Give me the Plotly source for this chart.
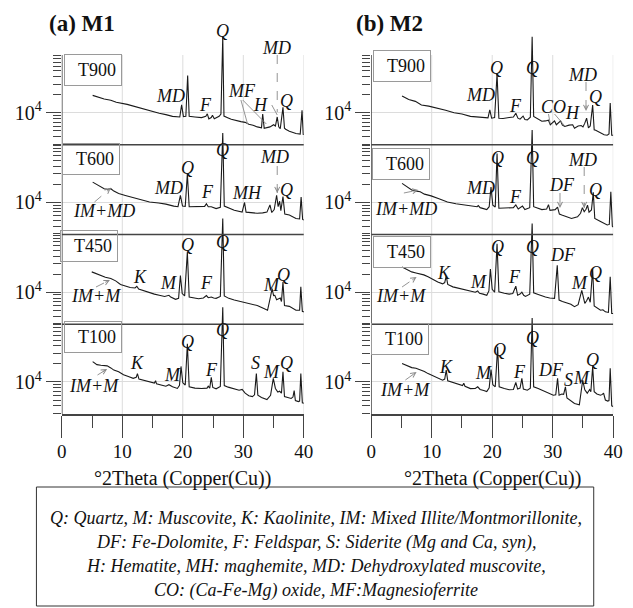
import plotly.graph_objects as go

# ---------------- data (2theta in degrees, intensity in counts) ----------------
panel_names = ["T900", "T600", "T450", "T100"]

m1_t900_tt = [5.1, 6.0, 7.0, 8.1, 9.0, 10.8, 12.0, 13.4, 14.8, 16.1, 17.2, 18.3, 19.5, 19.8, 20.1, 20.5, 20.8, 21.05, 22.0, 23.1, 23.8, 24.05, 24.3, 24.7, 24.9, 25.2, 26.0, 26.3, 26.6, 26.8, 27.5, 28.0, 29.6, 30.3, 30.9, 31.6, 32.3, 33.0, 33.2, 33.45, 34.4, 35.0, 35.3, 35.6, 35.85, 36.1, 36.55, 36.8, 37.0, 37.6, 38.7, 39.4, 39.7, 39.9, 40.0]
m1_t900_I = [19500, 18200, 17000, 16200, 15000, 13800, 12700, 11700, 10700, 9800, 9300, 8700, 8500, 13500, 8600, 8700, 41700, 8700, 8500, 8300, 8700, 9600, 7900, 8300, 9100, 7900, 8700, 9500, 186000, 8800, 8200, 7800, 7100, 6900, 6400, 6200, 5800, 5600, 9500, 5500, 5800, 6300, 6000, 8500, 5800, 5400, 12300, 5500, 5300, 4900, 4500, 4400, 11000, 4300, 4400]

m1_t600_tt = [5.1, 6.0, 7.0, 7.6, 8.1, 8.6, 9.4, 10.5, 11.8, 13.0, 14.5, 16.0, 17.2, 18.5, 19.2, 19.6, 19.95, 20.4, 20.75, 21.05, 22.0, 23.1, 23.6, 23.9, 24.2, 24.7, 25.5, 26.2, 26.6, 26.85, 27.5, 28.5, 29.8, 30.2, 30.45, 31.2, 32.3, 33.2, 33.9, 34.4, 34.7, 35.1, 35.5, 35.75, 36.0, 36.2, 36.55, 36.85, 37.6, 38.7, 39.3, 39.55, 39.8, 40.0]
m1_t600_I = [21900, 19500, 17000, 16600, 17000, 15500, 14100, 13100, 12100, 11000, 10200, 9800, 9400, 8700, 8500, 13200, 8700, 8600, 30200, 8500, 8500, 8400, 8600, 9500, 8500, 8500, 7900, 8300, 144500, 8700, 8100, 7400, 6900, 10000, 6900, 6800, 6600, 6700, 6900, 9100, 6800, 7600, 13200, 8500, 10500, 7300, 12600, 6400, 6200, 5400, 5300, 12300, 5200, 5100]

m1_t450_tt = [4.95, 5.7, 6.45, 7.2, 8.1, 8.9, 9.7, 10.5, 11.3, 12.1, 12.4, 12.7, 13.6, 14.5, 15.3, 16.1, 17.0, 17.7, 18.0, 18.8, 19.3, 19.6, 19.9, 20.3, 20.75, 21.05, 21.8, 22.6, 23.4, 23.9, 24.2, 24.7, 25.1, 25.5, 26.2, 26.6, 26.85, 27.6, 28.5, 29.3, 30.1, 31.2, 32.3, 33.3, 34.0, 34.5, 34.75, 35.0, 35.2, 35.5, 35.75, 36.1, 36.3, 36.55, 36.8, 37.6, 38.7, 39.3, 39.5, 39.75, 40.0]
m1_t450_I = [21900, 20400, 18600, 17800, 17000, 15500, 13500, 12600, 12000, 11800, 12600, 11300, 10500, 9800, 9300, 8900, 8500, 8900, 8300, 7600, 7900, 19000, 9500, 8700, 46800, 8300, 8000, 7800, 8000, 8800, 8100, 8300, 8000, 7900, 8500, 170000, 8700, 7900, 7400, 7100, 6900, 6400, 6000, 5400, 5000, 8500, 11500, 8800, 8900, 7500, 7800, 8000, 7000, 14800, 6000, 5800, 5000, 5000, 12300, 4800, 4700]

m1_t100_tt = [5.1, 5.8, 6.45, 7.0, 7.5, 8.1, 8.6, 9.4, 10.2, 11.0, 11.8, 12.3, 12.5, 12.75, 13.6, 14.5, 15.3, 15.5, 15.65, 16.4, 17.2, 17.7, 18.3, 19.1, 19.45, 19.7, 20.0, 20.4, 20.75, 21.05, 22.0, 23.1, 24.0, 24.2, 24.45, 24.7, 24.95, 25.5, 26.2, 26.6, 26.85, 27.5, 28.5, 29.3, 29.8, 30.3, 30.9, 31.5, 31.85, 32.15, 32.4, 33.0, 33.9, 34.5, 34.95, 35.3, 35.7, 36.0, 36.3, 36.55, 36.8, 37.3, 37.9, 38.2, 38.4, 38.6, 39.1, 39.3, 39.5, 39.75, 40.0]
m1_t100_I = [21900, 19500, 19000, 18800, 18600, 17200, 15800, 14800, 13200, 12300, 11500, 12000, 13800, 11200, 10600, 10000, 9600, 10500, 9300, 8900, 8500, 9000, 8300, 7800, 8800, 18200, 9700, 8900, 43600, 8300, 7900, 7800, 7900, 8500, 7900, 12000, 8100, 7700, 8400, 177800, 8700, 8200, 7600, 7300, 7500, 6500, 5900, 5700, 6100, 13800, 6000, 5500, 5100, 6000, 11500, 7800, 6800, 7000, 6500, 14800, 5700, 5500, 5300, 5600, 7200, 4900, 4700, 4800, 13800, 4500, 4400]

m2_t900_tt = [5.1, 6.2, 7.3, 8.3, 9.5, 11.0, 12.3, 13.7, 15.0, 16.4, 17.5, 18.5, 19.3, 19.6, 19.9, 20.4, 20.8, 21.1, 21.8, 22.8, 23.5, 23.9, 24.25, 24.6, 25.1, 25.4, 25.8, 26.3, 26.6, 26.85, 27.5, 28.2, 28.8, 29.3, 29.6, 30.3, 30.6, 31.3, 31.6, 32.0, 32.7, 33.3, 33.6, 34.2, 34.7, 35.0, 35.3, 35.6, 35.9, 36.2, 36.6, 36.85, 37.1, 37.9, 38.5, 39.0, 39.3, 39.5, 39.75, 40.0]
m2_t900_I = [19100, 16600, 15500, 13500, 12900, 12000, 11000, 10000, 9500, 8700, 8500, 8100, 8200, 11200, 8100, 8300, 44700, 8100, 8000, 8300, 8500, 9800, 8100, 7800, 8800, 7700, 7600, 8400, 186000, 8700, 7900, 7200, 7300, 7500, 6300, 7300, 6300, 7300, 6200, 5900, 6200, 6300, 5500, 6000, 6100, 5800, 6700, 8100, 5600, 6000, 13500, 5200, 5100, 4600, 4300, 4200, 4400, 14500, 4200, 4200]

m2_t600_tt = [5.1, 6.0, 6.7, 7.5, 8.1, 8.8, 9.9, 11.2, 12.6, 14.0, 15.3, 16.5, 17.5, 17.7, 18.0, 19.1, 19.5, 19.8, 20.1, 20.5, 20.8, 21.1, 22.0, 22.8, 23.5, 23.9, 24.3, 25.0, 25.4, 26.2, 26.6, 26.85, 27.6, 28.2, 29.0, 29.3, 29.55, 30.4, 30.8, 31.1, 31.5, 32.3, 33.1, 34.1, 34.6, 34.9, 35.2, 35.5, 35.75, 36.0, 36.4, 36.7, 36.95, 37.9, 39.0, 39.35, 39.6, 39.85, 40.0]
m2_t600_I = [20900, 18200, 16200, 15500, 15100, 13800, 12900, 11500, 10200, 9500, 9100, 8700, 8500, 8900, 8200, 7600, 8500, 18200, 9000, 8400, 66000, 8000, 8000, 8000, 8200, 9100, 7800, 8700, 7600, 8200, 162000, 8500, 8000, 7600, 7800, 9200, 7400, 7600, 8400, 6400, 6170, 5800, 5400, 5750, 6600, 8200, 7000, 7700, 9000, 6900, 7500, 14800, 5400, 4800, 4200, 4300, 15100, 4000, 3900]

m2_t450_tt = [5.1, 5.9, 6.7, 7.4, 8.1, 8.7, 9.4, 10.2, 11.0, 11.8, 12.15, 12.4, 12.65, 13.5, 14.8, 15.6, 16.4, 17.2, 17.6, 17.9, 18.5, 19.1, 19.45, 19.7, 20.0, 20.4, 20.8, 21.1, 22.0, 22.8, 23.4, 23.9, 24.2, 24.6, 24.9, 25.2, 25.5, 26.2, 26.6, 26.85, 27.6, 28.2, 28.8, 29.5, 30.3, 30.75, 31.05, 31.6, 32.5, 33.0, 33.6, 34.2, 34.8, 35.3, 35.6, 35.9, 36.2, 36.6, 36.85, 37.1, 37.9, 38.3, 38.7, 39.2, 39.5, 39.75, 40.0]
m2_t450_I = [26300, 24000, 21900, 21000, 20400, 19500, 18200, 16200, 14800, 13800, 14500, 18600, 13500, 12300, 11500, 10800, 10500, 10000, 10500, 9600, 9300, 8900, 10500, 24500, 11200, 10000, 64600, 10200, 9600, 9300, 9500, 12600, 8900, 9300, 10000, 8900, 8500, 9300, 141000, 9800, 9200, 8700, 8300, 8000, 7900, 28200, 7400, 7000, 6500, 6300, 5750, 6200, 10700, 6500, 7200, 8300, 6800, 24500, 5900, 5700, 5000, 5100, 4700, 4600, 18200, 4400, 4400]

m2_t100_tt = [5.1, 5.9, 6.7, 7.4, 8.1, 8.8, 9.4, 10.2, 11.0, 11.8, 12.15, 12.4, 12.65, 13.6, 14.8, 15.1, 15.3, 15.5, 16.4, 17.2, 17.6, 18.0, 18.6, 19.1, 19.5, 19.8, 20.1, 20.5, 20.9, 21.15, 22.0, 22.8, 23.5, 23.9, 24.2, 24.6, 24.9, 25.15, 25.8, 26.3, 26.6, 26.85, 27.6, 28.2, 28.8, 29.5, 30.1, 30.5, 30.8, 31.05, 31.5, 31.8, 32.1, 32.35, 32.8, 33.6, 34.4, 34.7, 34.95, 35.3, 35.7, 36.1, 36.3, 36.6, 36.85, 37.3, 37.9, 38.2, 38.4, 38.7, 39.1, 39.3, 39.5, 39.75, 40.0]
m2_t100_I = [20400, 18600, 17400, 17000, 16200, 15000, 13800, 12600, 11500, 10700, 11200, 15800, 10500, 9800, 8900, 8700, 9500, 8500, 7760, 7800, 8300, 7500, 7200, 6900, 8000, 16200, 9000, 8300, 38900, 8300, 7800, 7400, 7500, 9800, 7600, 7900, 11500, 7600, 7300, 7900, 117500, 8300, 7800, 7300, 6900, 6500, 6000, 6100, 11500, 6000, 6300, 6200, 8300, 5400, 5000, 4370, 4170, 6500, 10700, 7400, 6500, 7500, 6900, 18200, 6900, 6300, 6000, 6200, 6500, 5000, 4800, 4900, 17000, 4000, 3890]

x_ticks = [0, 10, 20, 30, 40]
x_minor = [5, 15, 25, 35]
legend_lines = [
    "Q: Quartz, M: Muscovite, K: Kaolinite, IM: Mixed Illite/Montmorillonite,",
    "DF: Fe-Dolomite, F: Feldspar, S: Siderite (Mg and Ca, syn),",
    "H: Hematite, MH: maghemite, MD: Dehydroxylated muscovite,",
    "CO: (Ca-Fe-Mg) oxide, MF:Magnesioferrite",
]

# ---------------- geometry ----------------
WIN_W, WIN_H = 633, 608
OFF = 8                      # page body margin of the browser
FW, FH = WIN_W - OFF, WIN_H - OFF
SERIF = "Liberation Serif, Times New Roman, serif"
PX_BOTTOM, PANEL_H, PX_DOM_TOP = 414, 89.75, 20
S = 1.5            # decades per panel
L0 = 3.465         # log10 at bottom of lowest panel
D = PANEL_H / S
LTOP = L0 + (PX_BOTTOM - PX_DOM_TOP) / D
PXU = 6.2  # pixels per degree


def pxx(px):
    return (px - OFF) / FW


def py(p):
    return (WIN_H - p) / FH


DOM_Y = [py(PX_BOTTOM), py(PX_DOM_TOP)]
COLS = [dict(xa="x", ya="y", dom=[pxx(58), pxx(306)]),
        dict(xa="x2", ya="y2", dom=[pxx(375), pxx(623)])]


def log_to_paper(lg):
    return DOM_Y[0] + (lg - L0) / (LTOP - L0) * (DOM_Y[1] - DOM_Y[0])


patterns = [
    [(m1_t900_tt, m1_t900_I), (m1_t600_tt, m1_t600_I), (m1_t450_tt, m1_t450_I), (m1_t100_tt, m1_t100_I)],
    [(m2_t900_tt, m2_t900_I), (m2_t600_tt, m2_t600_I), (m2_t450_tt, m2_t450_I), (m2_t100_tt, m2_t100_I)],
]

fig = go.Figure()
for c, col in enumerate(COLS):
    for r, (tt, inten) in enumerate(patterns[c]):
        k = 3 - r
        fig.add_trace(go.Scatter(
            x=tt, y=[v * 10 ** (k * S) for v in inten], mode="lines",
            line=dict(color="#1a1a1a", width=1.1), xaxis=col["xa"], yaxis=col["ya"],
            showlegend=False, hoverinfo="skip", name=panel_names[r]))

major_vals = [1e4 * 10 ** (k * S) for k in range(4)]
minor_vals = []
for k in range(4):
    for m in range(3, 10):
        minor_vals.append(m * 1e3 * 10 ** (k * S))
    for m in range(2, 10):
        minor_vals.append(m * 1e4 * 10 ** (k * S))

axis_color = "#444"
for c, col in enumerate(COLS):
    sfx = "" if c == 0 else "2"
    fig.update_layout(**{
        "xaxis" + sfx: dict(domain=col["dom"], anchor=col["ya"], range=[0, 40],
                            tickmode="array", tickvals=x_ticks, ticks="outside", ticklen=22,
                            tickwidth=1, tickcolor=axis_color, showline=True, linecolor=axis_color,
                            linewidth=1.5, showgrid=False, zeroline=False,
                            ticklabelstandoff=-3,
                            tickfont=dict(family=SERIF, size=19, color="#111"),
                            minor=dict(tickmode="array", tickvals=x_minor, ticks="outside",
                                       ticklen=12, tickcolor=axis_color, showgrid=False)),
        "yaxis" + sfx: dict(domain=DOM_Y, anchor=col["xa"], type="log", range=[L0, LTOP],
                            tickmode="array", tickvals=major_vals,
                            ticktext=["10<sup>4</sup>"] * 4, ticks="outside", ticklen=15,
                            tickwidth=1, tickcolor=axis_color, showline=False, zeroline=False,
                            showgrid=True, gridcolor="#dcdcdc", gridwidth=1,
                            tickfont=dict(family=SERIF, size=20, color="#111"),
                            minor=dict(tickmode="array", tickvals=minor_vals, ticks="outside",
                                       ticklen=8, tickcolor=axis_color, showgrid=False)),
    })

shapes = []
annotations = []
y_bot = log_to_paper(L0)
y_top = log_to_paper(L0 + 4 * S)
for c, col in enumerate(COLS):
    xa = col["xa"]
    for gx in [10, 20, 30, 40]:
        shapes.append(dict(type="line", xref=xa, yref="paper", x0=gx, x1=gx, y0=y_bot, y1=y_top,
                           line=dict(color="#dcdcdc", width=1), layer="below"))
    shapes.append(dict(type="line", xref=xa, yref="paper", x0=0, x1=0, y0=y_bot, y1=y_top,
                       line=dict(color=axis_color, width=1.5)))
    for k in range(1, 4):
        yy = log_to_paper(L0 + k * S)
        shapes.append(dict(type="line", xref=xa, yref="paper", x0=0, x1=40, y0=yy, y1=yy,
                           line=dict(color=axis_color, width=1.5)))


def lab(xa, x, p, text, size=18):
    annotations.append(dict(xref=xa, yref="paper", x=x, y=py(p), text="<i>%s</i>" % text,
                            showarrow=False, xanchor="center", yanchor="middle",
                            font=dict(family=SERIF, size=size, color="#111")))


def seg(xa, x0, p0, x1, p1, dash="solid", color="#888", width=0.9):
    shapes.append(dict(type="line", xref=xa, yref="paper", x0=x0, x1=x1, y0=py(p0), y1=py(p1),
                       line=dict(color=color, width=width, dash=dash)))


def arrow(xa, x0, p0, x1, p1, dash="dash", color="#888"):
    seg(xa, x0, p0, x1, p1, dash=dash, color=color)
    dx = (x0 - x1) * PXU
    dy = p0 - p1
    ln = (dx * dx + dy * dy) ** 0.5
    annotations.append(dict(xref=xa, yref="paper", x=x1, y=py(p1), text="", showarrow=True,
                            ax=dx / ln * 7, ay=dy / ln * 7, arrowhead=5, arrowsize=1.1,
                            arrowwidth=0.9, arrowcolor=color))


# ---- left column labels (M1)
L = "x"
for t, x, p in [("Q", 26.5, 31), ("MD", 35.5, 48), ("MD", 18.0, 96), ("F", 23.7, 105),
                ("MF", 29.8, 91), ("H", 32.9, 105), ("Q", 37.1, 101),
                ("Q", 26.5, 150), ("MD", 35.2, 157), ("Q", 20.7, 168), ("MD", 17.7, 188),
                ("F", 24.0, 192), ("MH", 30.6, 193), ("Q", 37.1, 190), ("IM+MD", 7.0, 211),
                ("Q", 26.5, 242), ("Q", 20.7, 245), ("K", 12.9, 277), ("M", 17.7, 283),
                ("F", 23.9, 283), ("M", 34.7, 285), ("Q", 36.7, 275), ("IM+M", 5.6, 296),
                ("Q", 26.5, 330), ("Q", 20.7, 342), ("K", 12.4, 363), ("M", 18.3, 375),
                ("F", 24.7, 370), ("S", 32.0, 363), ("M", 34.7, 372), ("Q", 37.1, 363),
                ("IM+M", 5.3, 386)]:
    lab(L, x, p, t)
seg(L, 35.6, 55, 35.6, 112, dash="dash")
seg(L, 34.7, 105, 35.6, 115)
seg(L, 29.6, 100, 30.7, 124)
seg(L, 29.9, 100, 33.8, 124)
arrow(L, 35.6, 166, 35.6, 193)
arrow(L, 5.4, 202, 8.1, 188)
arrow(L, 5.65, 287, 7.95, 280)
arrow(L, 5.9, 375, 7.5, 369)

# ---- right column labels (M2)
R = "x2"
for t, x, p in [("Q", 20.7, 68), ("Q", 26.6, 68), ("MD", 18.0, 95), ("F", 23.9, 106),
                ("CO", 30.1, 107), ("H", 33.3, 113), ("MD", 34.9, 75), ("Q", 37.1, 97),
                ("Q", 20.8, 158), ("Q", 26.6, 158), ("MD", 34.9, 160), ("MD", 18.0, 188),
                ("F", 23.9, 197), ("DF", 31.5, 185), ("Q", 37.1, 190), ("IM+MD", 5.8, 209),
                ("Q", 20.8, 247), ("Q", 26.6, 247), ("DF", 31.7, 255), ("K", 12.1, 273),
                ("M", 17.7, 282), ("F", 23.7, 277), ("M", 34.4, 283), ("Q", 37.1, 273),
                ("IM+M", 5.0, 296),
                ("Q", 26.6, 338), ("Q", 21.2, 350), ("K", 12.4, 367), ("M", 18.5, 373),
                ("F", 24.5, 372), ("DF", 29.7, 370), ("S", 32.6, 380), ("M", 34.7, 378),
                ("Q", 36.6, 360), ("IM+M", 5.6, 390)]:
    lab(R, x, p, t)
arrow(R, 35.5, 82, 35.5, 111)
seg(R, 29.3, 114, 29.6, 124)
seg(R, 30.3, 114, 32.0, 126)
arrow(R, 35.2, 167, 35.2, 208)
arrow(R, 31.2, 193, 31.2, 208)
arrow(R, 5.4, 193, 7.8, 190)
arrow(R, 5.1, 287, 7.5, 277)
arrow(R, 5.65, 380, 7.5, 372)

# ---- panel name boxes
box_pos = [[(89.5, 70), (87.5, 159), (86, 246), (89.5, 337)],
           [(407, 66), (406, 164), (407, 252), (405, 339)]]
for c in range(2):
    for r, name in enumerate(panel_names):
        cx, cy = box_pos[c][r]
        annotations.append(dict(xref="paper", yref="paper", x=pxx(cx), y=py(cy), text=name,
                                showarrow=False, xanchor="center", yanchor="middle",
                                bordercolor="#9a9a9a", borderwidth=1, borderpad=5, width=46,
                                align="right", font=dict(family=SERIF, size=18, color="#111")))

# ---- titles
for cx, txt in [(79, "<b>(a) M1</b>"), (394, "<b>(b) M2</b>")]:
    annotations.append(dict(xref="paper", yref="paper", x=pxx(cx), y=py(23), text=txt,
                            showarrow=False, xanchor="center", yanchor="middle",
                            font=dict(family=SERIF, size=23, color="#111")))
for cx in [182, 499]:
    annotations.append(dict(xref="paper", yref="paper", x=pxx(cx), y=py(478),
                            text="°2Theta (Copper(Cu))", showarrow=False,
                            xanchor="center", yanchor="middle",
                            font=dict(family=SERIF, size=20, color="#111")))

# ---- legend box
shapes.append(dict(type="rect", xref="paper", yref="paper", x0=pxx(32), x1=pxx(603),
                   y0=py(606), y1=py(487), line=dict(color="#333", width=1)))
for i, txt in enumerate(legend_lines):
    annotations.append(dict(xref="paper", yref="paper", x=pxx(318), y=py(518 + 24 * i),
                            text="<i>%s</i>" % txt, showarrow=False,
                            xanchor="center", yanchor="middle",
                            font=dict(family=SERIF, size=18, color="#111")))

fig.update_layout(width=FW, height=FH, margin=dict(l=0, r=0, t=0, b=0),
                  paper_bgcolor="white", plot_bgcolor="white", showlegend=False,
                  font=dict(family=SERIF, color="#111"),
                  shapes=shapes, annotations=annotations)

fig.write_html("out.html")
